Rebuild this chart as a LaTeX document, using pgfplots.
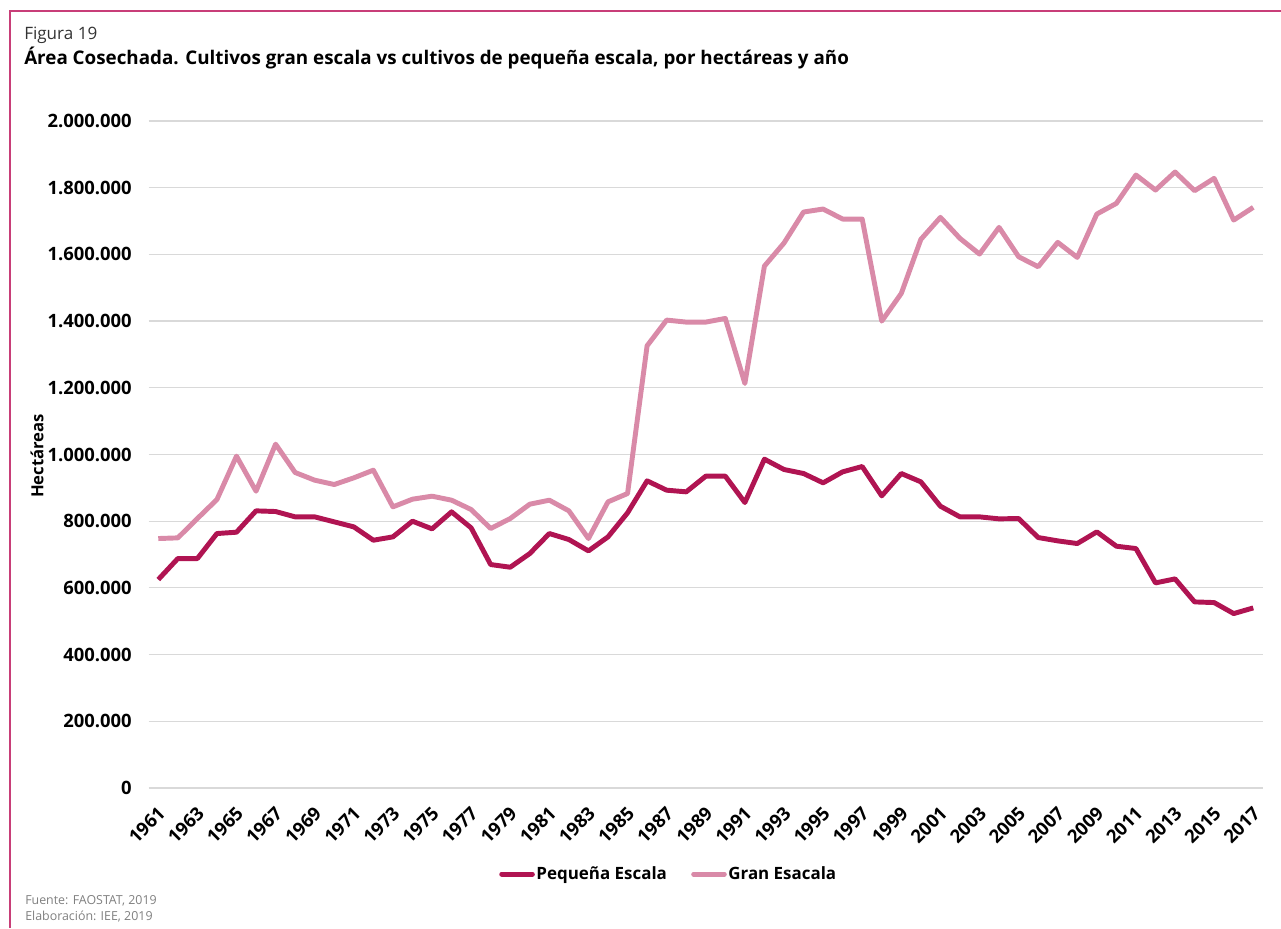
\documentclass[border=0pt]{standalone}
\usepackage{fontspec}
\setmainfont{Open Sans}
\usepackage{pgfplots}
\pgfplotsset{compat=1.18}

\definecolor{pequena}{RGB}{176,20,82}
\definecolor{gran}{RGB}{217,138,168}
\definecolor{marco}{RGB}{200,62,120}
\definecolor{rejilla}{RGB}{217,217,217}
\definecolor{nota}{RGB}{128,128,128}

\begin{document}
\begin{tikzpicture}
% 1 unit = 1 px of the reference (1281 x 928), y measured from the bottom
\begin{scope}[x=0.75pt,y=0.75pt]
\useasboundingbox (0,0) rectangle (1281,928);
% frame (left and top only)
\draw[marco, line width=1.5pt] (10,0) -- (10,917) -- (1281,917);
\node[anchor=base west, inner sep=0pt, text=black!80, font=\fontsize{12.8}{15}\selectfont] at (24,888) {Figura 19};
\node[anchor=base west, inner sep=0pt, font=\fontsize{14.1}{17}\selectfont\bfseries] at (24,863)
  {Área Cosechada. Cultivos gran escala vs cultivos de pequeña escala, por hectáreas y año};
\node[rotate=90, inner sep=0pt, font=\fontsize{12.5}{15}\selectfont\bfseries] at (37,472) {Hectáreas};
\node[anchor=base west, inner sep=0pt, text=nota, font=\fontsize{9.3}{11}\selectfont] at (25,24) {Fuente: FAOSTAT, 2019};
\node[anchor=base west, inner sep=0pt, text=nota, font=\fontsize{9.3}{11}\selectfont] at (25,7.5) {Elaboración: IEE, 2019};
\end{scope}

\begin{axis}[
    at={(111.375pt,105pt)}, anchor=south west,
    scale only axis,
    width=835.9pt, height=500.25pt,
    xmin=1960.5, xmax=2017.5,
    ymin=0, ymax=2000000,
    xtick={1961,1963,...,2017},
    ytick={0,200000,...,2000000},
    scaled y ticks=false,
    axis line style={draw=none},
    tick style={draw=none},
    ymajorgrids,
    major grid style={rejilla, line width=0.9pt},
    /pgf/number format/assume math mode=true,
    ticklabel style={font=\fontsize{13.8}{16}\selectfont\bfseries},
    yticklabel style={/pgf/number format/fixed, /pgf/number format/precision=0,
                      /pgf/number format/1000 sep={.},
                      anchor=east, inner sep=0pt, xshift=-12.4pt},
    xticklabel style={/pgf/number format/1000 sep={},
                      xshift=-1.1pt, yshift=-13pt,
                      rotate=45, anchor=north east, inner sep=0pt},
    legend style={
        at={(0.4666,-0.129)}, anchor=center,
        draw=none, fill=none,
        legend columns=2,
        font=\fontsize{12.7}{15}\selectfont\bfseries,
        inner sep=0pt,
        nodes={inner sep=1.2pt},
        /tikz/every even column/.append style={column sep=17pt},
    },
    legend image code/.code={\draw[#1, line cap=round] (0pt,0pt) -- (23pt,0pt);},
]

\addplot[pequena, line width=3.7pt, line join=round] coordinates {
(1961,625000)(1962,688000)(1963,688000)(1964,763000)(1965,767000)
(1966,831000)(1967,829000)(1968,813000)(1969,813000)(1970,798000)
(1971,783000)(1972,743000)(1973,753000)(1974,800000)(1975,777000)
(1976,828000)(1977,780000)(1978,670000)(1979,662000)(1980,703000)
(1981,763000)(1982,745000)(1983,711000)(1984,753000)(1985,825000)
(1986,921000)(1987,893000)(1988,888000)(1989,935000)(1990,935000)
(1991,856000)(1992,986000)(1993,955000)(1994,943000)(1995,915000)
(1996,948000)(1997,964000)(1998,876000)(1999,943000)(2000,918000)
(2001,845000)(2002,813000)(2003,813000)(2004,807000)(2005,808000)
(2006,751000)(2007,741000)(2008,733000)(2009,768000)(2010,725000)
(2011,718000)(2012,615000)(2013,627000)(2014,558000)(2015,556000)
(2016,523000)(2017,540000)
};
\addlegendentry{Pequeña Escala}

\addplot[gran, line width=3.7pt, line join=round] coordinates {
(1961,748000)(1962,750000)(1963,808000)(1964,865000)(1965,995000)
(1966,890000)(1967,1031000)(1968,946000)(1969,923000)(1970,910000)
(1971,930000)(1972,953000)(1973,843000)(1974,866000)(1975,875000)
(1976,863000)(1977,835000)(1978,778000)(1979,808000)(1980,851000)
(1981,863000)(1982,831000)(1983,748000)(1984,858000)(1985,883000)
(1986,1326000)(1987,1403000)(1988,1397000)(1989,1397000)(1990,1408000)
(1991,1213000)(1992,1565000)(1993,1634000)(1994,1727000)(1995,1736000)
(1996,1706000)(1997,1706000)(1998,1400000)(1999,1483000)(2000,1645000)
(2001,1711000)(2002,1648000)(2003,1601000)(2004,1681000)(2005,1593000)
(2006,1563000)(2007,1636000)(2008,1591000)(2009,1721000)(2010,1753000)
(2011,1838000)(2012,1793000)(2013,1847000)(2014,1791000)(2015,1828000)
(2016,1703000)(2017,1741000)
};
\addlegendentry{Gran Esacala}

\end{axis}
\end{tikzpicture}
\end{document}
